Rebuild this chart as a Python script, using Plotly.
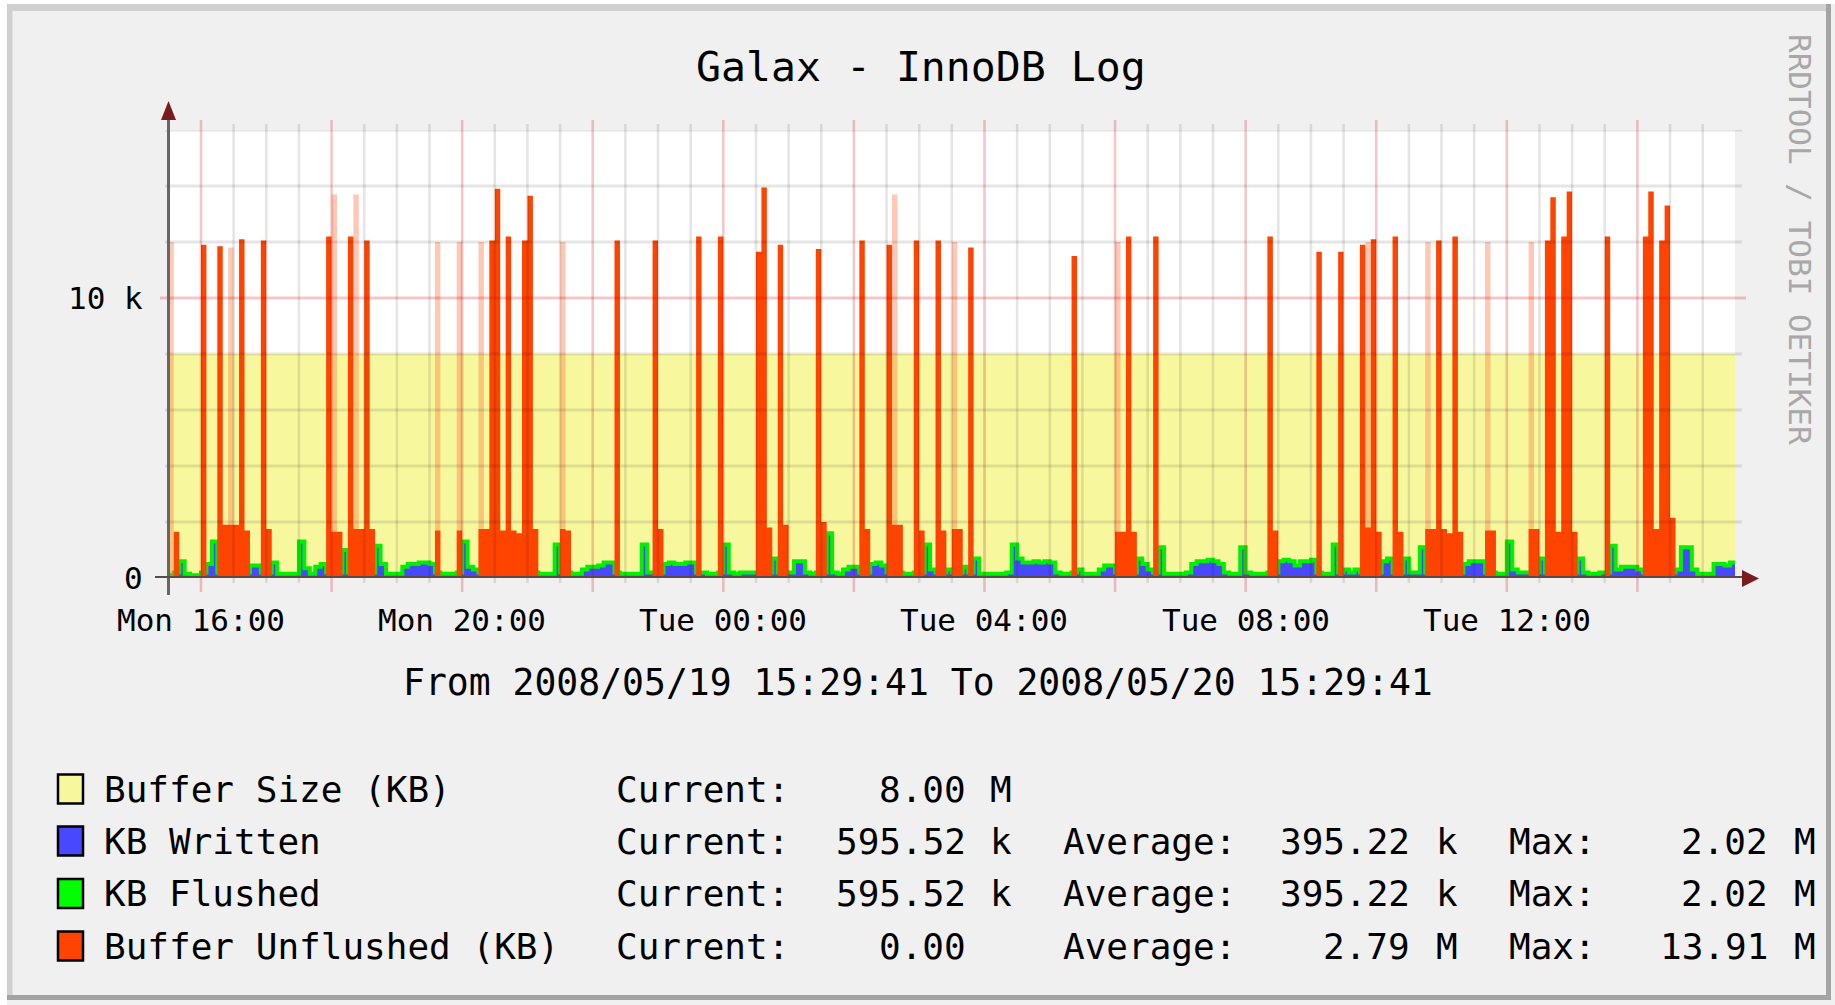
import plotly.graph_objects as go
import pandas as pd

# ---------------- data ----------------
TITLE = "Galax - InnoDB Log"
START = "2008-05-19 15:29:41"
END = "2008-05-20 15:29:41"
FIRST_SAMPLE = "2008-05-19 15:30:00"
STEP = "5min"
BUFFER_SIZE_KB = 8000

# 5-minute samples, one row = one hour (12 samples)
BUFFER_UNFLUSHED = [
    0, 1650, 0, 0, 0, 0, 11900, 0, 0, 11850, 1900, 1900,
    1900, 12100, 1700, 0, 0, 12050, 1750, 0, 0, 0, 0, 0,
    0, 0, 0, 0, 0, 12200, 1650, 1650, 0, 12200, 1750, 1750,
    12050, 1750, 0, 0, 0, 0, 0, 0, 0, 0, 0, 0,
    0, 1700, 0, 0, 0, 1700, 0, 0, 0, 1750, 1750, 12050,
    13900, 1700, 12200, 1700, 1600, 12050, 13650, 1750, 0, 0, 0, 0,
    1750, 1700, 0, 0, 0, 0, 0, 0, 0, 0, 12050, 0,
    0, 0, 0, 0, 0, 12050, 1750, 0, 0, 0, 0, 0,
    0, 12200, 0, 0, 0, 12200, 0, 0, 0, 0, 0, 0,
    11650, 13950, 1800, 0, 11900, 1900, 0, 0, 0, 0, 0, 11750,
    2000, 0, 0, 0, 0, 0, 0, 12050, 1750, 0, 0, 0,
    11900, 1900, 1900, 0, 0, 12050, 1700, 0, 0, 12050, 1700, 0,
    1750, 1750, 0, 11800, 0, 0, 0, 0, 0, 0, 0, 0,
    0, 0, 0, 0, 0, 0, 0, 0, 0, 0, 11500, 0,
    0, 0, 0, 0, 0, 0, 1650, 1650, 12200, 1650, 0, 0,
    0, 12200, 0, 0, 0, 0, 0, 0, 0, 0, 0, 0,
    0, 0, 0, 0, 0, 0, 0, 0, 0, 0, 12200, 1700,
    0, 0, 0, 0, 0, 0, 0, 11650, 0, 0, 0, 11650,
    0, 0, 0, 11900, 1800, 12100, 1650, 0, 0, 12200, 1650, 0,
    0, 0, 0, 1750, 1750, 12050, 1750, 1600, 12200, 1650, 0, 0,
    0, 0, 1700, 1700, 0, 0, 0, 0, 0, 0, 1750, 1750,
    0, 12050, 13600, 1650, 12200, 13800, 1650, 0, 0, 0, 0, 0,
    12200, 0, 0, 0, 0, 0, 0, 12200, 13800, 1750, 12050, 13300,
    2150, 0, 0, 0, 0, 0, 0, 0, 0, 0, 0, 0,
]

# thin, partly rendered peaks (appear pale in the picture)
BUFFER_UNFLUSHED_PALE = [
    12000, 0, 0, 0, 0, 0, 0, 0, 0, 0, 0, 11800,
    0, 0, 0, 0, 0, 0, 0, 0, 0, 0, 0, 0,
    0, 0, 0, 0, 0, 0, 13700, 0, 0, 0, 13700, 0,
    0, 0, 0, 0, 0, 0, 0, 0, 0, 0, 0, 0,
    0, 12000, 0, 0, 0, 12000, 0, 0, 0, 12000, 0, 0,
    0, 0, 0, 0, 0, 0, 0, 0, 0, 0, 0, 0,
    12000, 0, 0, 0, 0, 0, 0, 0, 0, 0, 0, 0,
    0, 0, 0, 0, 0, 0, 0, 0, 0, 0, 0, 0,
    0, 0, 0, 0, 0, 0, 0, 0, 0, 0, 0, 0,
    0, 0, 0, 0, 0, 0, 0, 0, 0, 0, 0, 0,
    0, 0, 0, 0, 0, 0, 0, 0, 0, 0, 0, 0,
    0, 13700, 0, 0, 0, 0, 0, 0, 0, 0, 0, 0,
    12000, 0, 0, 0, 0, 0, 0, 0, 0, 0, 0, 0,
    0, 0, 0, 0, 0, 0, 0, 0, 0, 0, 0, 0,
    0, 0, 0, 0, 0, 0, 12000, 0, 0, 0, 0, 0,
    0, 0, 0, 0, 0, 0, 0, 0, 0, 0, 0, 0,
    0, 0, 0, 0, 0, 0, 0, 0, 0, 0, 0, 0,
    0, 0, 0, 0, 0, 0, 0, 0, 0, 0, 0, 0,
    0, 0, 0, 0, 12000, 0, 0, 0, 0, 0, 0, 0,
    0, 0, 0, 12000, 0, 0, 0, 0, 0, 0, 0, 0,
    0, 0, 12000, 0, 0, 0, 0, 0, 0, 0, 12000, 0,
    0, 0, 0, 0, 0, 0, 0, 0, 0, 0, 0, 0,
    0, 0, 0, 0, 0, 0, 0, 0, 0, 0, 0, 0,
    0, 0, 0, 0, 0, 0, 0, 0, 0, 0, 0, 0,
]

KB_WRITTEN = [
    100, 200, 600, 150, 100, 100, 200, 500, 1300, 200, 200, 200,
    200, 200, 200, 450, 450, 200, 200, 550, 150, 150, 150, 150,
    1300, 350, 150, 400, 500, 200, 200, 200, 1000, 200, 200, 200,
    200, 200, 1150, 500, 150, 150, 150, 400, 500, 500, 550, 550,
    500, 200, 150, 150, 150, 200, 1300, 400, 300, 200, 200, 200,
    200, 200, 200, 200, 200, 200, 200, 200, 150, 150, 150, 1200,
    200, 200, 150, 150, 300, 400, 400, 450, 550, 550, 200, 150,
    150, 150, 150, 1200, 200, 200, 200, 500, 550, 500, 500, 550,
    550, 200, 200, 150, 150, 200, 1200, 200, 150, 200, 200, 200,
    200, 200, 200, 700, 200, 200, 200, 600, 600, 200, 150, 200,
    200, 1600, 200, 150, 300, 400, 400, 200, 200, 500, 550, 450,
    200, 200, 200, 150, 150, 200, 200, 1200, 300, 200, 200, 300,
    200, 200, 400, 200, 700, 150, 150, 150, 150, 150, 200, 1200,
    700, 550, 550, 600, 550, 600, 550, 200, 150, 150, 200, 300,
    150, 150, 150, 300, 450, 450, 200, 200, 200, 200, 700, 500,
    300, 200, 1100, 150, 150, 150, 150, 200, 500, 600, 600, 650,
    600, 500, 200, 150, 150, 1100, 200, 150, 150, 150, 200, 200,
    600, 650, 600, 450, 600, 600, 650, 200, 150, 150, 1200, 200,
    300, 200, 300, 200, 200, 200, 200, 600, 700, 200, 200, 700,
    200, 200, 1100, 200, 200, 200, 200, 200, 200, 200, 500, 600,
    600, 600, 200, 200, 150, 150, 1300, 300, 200, 200, 200, 200,
    700, 200, 200, 200, 200, 200, 200, 700, 200, 150, 150, 200,
    200, 1150, 300, 400, 400, 400, 300, 200, 200, 200, 200, 200,
    200, 300, 1100, 1100, 300, 150, 150, 150, 500, 500, 450, 550,
]
# legend shows identical statistics for written and flushed
KB_FLUSHED = list(KB_WRITTEN)

X_TICK_VALUES = ["2008-05-19 16:00", "2008-05-19 20:00", "2008-05-20 00:00",
                 "2008-05-20 04:00", "2008-05-20 08:00", "2008-05-20 12:00"]
X_TICK_TEXT = ["Mon 16:00", "Mon 20:00", "Tue 00:00", "Tue 04:00", "Tue 08:00", "Tue 12:00"]
Y_TICK_VALUES = [0, 10000]
Y_TICK_TEXT = ["0", "10 k"]
Y_GRID_VALUES = [2000, 4000, 6000, 8000, 10000, 12000, 14000, 16000]
Y_MAJOR_GRID = [10000]

LEGEND_LABELS = ["Buffer Size (KB)", "KB Written", "KB Flushed", "Buffer Unflushed (KB)"]
LEGEND_CURRENT = ["8.00 M", "595.52 k", "595.52 k", "0.00"]
LEGEND_AVERAGE = ["", "395.22 k", "395.22 k", "2.79 M"]
LEGEND_MAX = ["", "2.02 M", "2.02 M", "13.91 M"]
SUBTITLE = "From 2008/05/19 15:29:41 To 2008/05/20 15:29:41"
CREDIT = "RRDTOOL / TOBI OETIKER"

# ---------------- style ----------------
FONT = "DejaVu Sans Mono"
YELLOW = "#F7F89E"
BLUE = "#4848FF"
GREEN = "#00F000"
ORANGE = "#FF4300"
PALE_ORANGE = "rgba(255,110,60,0.38)"

WIDTH, HEIGHT = 1835, 1005
L, T, PW, PH = 168, 130, 1567, 448
B = T + PH


def px(p):
    return (p - L) / PW


def py(p):
    return (B - p) / PH


times = pd.date_range(FIRST_SAMPLE, periods=len(KB_WRITTEN) + 1, freq=STEP)


def held(vals):
    return list(vals) + [vals[-1]]


fig = go.Figure()
fig.add_trace(go.Scatter(x=[START, END], y=[BUFFER_SIZE_KB, BUFFER_SIZE_KB], mode="lines",
                         fill="tozeroy", fillcolor=YELLOW, line=dict(width=0, color=YELLOW),
                         hoverinfo="skip"))
fig.add_trace(go.Scatter(x=times, y=held(KB_WRITTEN), mode="lines", line_shape="hv",
                         fill="tozeroy", fillcolor=BLUE, line=dict(width=0, color=BLUE)))
fig.add_trace(go.Scatter(x=times, y=held(KB_FLUSHED), mode="lines", line_shape="hv",
                         line=dict(width=4, color=GREEN)))
fig.add_trace(go.Scatter(x=times, y=held(BUFFER_UNFLUSHED_PALE), mode="lines", line_shape="hv",
                         fill="tozeroy", fillcolor=PALE_ORANGE, line=dict(width=0, color=PALE_ORANGE)))
fig.add_trace(go.Scatter(x=times, y=held(BUFFER_UNFLUSHED), mode="lines", line_shape="hv",
                         fill="tozeroy", fillcolor=ORANGE, line=dict(width=0, color=ORANGE)))

shapes = []
# frame
shapes.append(dict(type="rect", xref="paper", yref="paper", x0=px(0), x1=px(WIDTH), y0=py(0), y1=py(4),
                   fillcolor="#ffffff", line_width=0, layer="below"))
shapes.append(dict(type="rect", xref="paper", yref="paper", x0=px(0), x1=px(7), y0=py(0), y1=py(HEIGHT),
                   fillcolor="#ffffff", line_width=0, layer="below"))
shapes.append(dict(type="rect", xref="paper", yref="paper", x0=px(7), x1=px(1831), y0=py(4), y1=py(11),
                   fillcolor="#d0d0d0", line_width=0, layer="below"))
shapes.append(dict(type="rect", xref="paper", yref="paper", x0=px(7), x1=px(12.5), y0=py(4), y1=py(1000),
                   fillcolor="#d0d0d0", line_width=0, layer="below"))
shapes.append(dict(type="rect", xref="paper", yref="paper", x0=px(1826), x1=px(1831), y0=py(4), y1=py(1000),
                   fillcolor="#a4a4a4", line_width=0, layer="below"))
shapes.append(dict(type="rect", xref="paper", yref="paper", x0=px(7), x1=px(1831), y0=py(995), y1=py(1000),
                   fillcolor="#a4a4a4", line_width=0, layer="below"))

# vertical grid every 30 minutes, red every 2 hours
for t in pd.date_range("2008-05-19 16:00", "2008-05-20 15:00", freq="30min"):
    major = t.minute == 0 and t.hour % 2 == 0
    shapes.append(dict(type="line", xref="x", yref="paper", x0=t, x1=t,
                       y0=py(592 if major else 583), y1=py(120 if major else 124),
                       line=dict(color="rgba(200,0,0,0.22)" if major else "rgba(0,0,0,0.1)", width=2.6),
                       layer="above"))
for v in Y_GRID_VALUES:
    major = v in Y_MAJOR_GRID
    shapes.append(dict(type="line", xref="paper", yref="y", x0=px(160 if major else 165),
                       x1=px(1746 if major else 1742), y0=v, y1=v,
                       line=dict(color="rgba(200,0,0,0.22)" if major else "rgba(0,0,0,0.1)", width=2.8),
                       layer="above"))
# axes
shapes.append(dict(type="line", xref="paper", yref="paper", x0=px(168.5), x1=px(168.5), y0=py(595), y1=py(118),
                   line=dict(color="#666666", width=3), layer="above"))
shapes.append(dict(type="line", xref="paper", yref="y", x0=px(155), x1=px(1745), y0=0, y1=0,
                   line=dict(color="#5c4a4a", width=4), layer="above"))
shapes.append(dict(type="path", xref="paper", yref="paper",
                   path=f"M {px(168.5)},{py(101)} L {px(161)},{py(120)} L {px(176)},{py(120)} Z",
                   fillcolor="#7a1c1c", line_width=0, layer="above"))
shapes.append(dict(type="path", xref="paper", yref="paper",
                   path=f"M {px(1759)},{py(578.5)} L {px(1742)},{py(570)} L {px(1742)},{py(587)} Z",
                   fillcolor="#7a1c1c", line_width=0, layer="above"))

annotations = []


def ann(text, x, y, size, xanchor="left", color="#000000", xref="paper", yref="paper", angle=0):
    annotations.append(dict(text=text, x=x, y=y, xref=xref, yref=yref, xanchor=xanchor, yanchor="middle",
                            showarrow=False, textangle=angle,
                            font=dict(family=FONT, size=size, color=color)))


ann(TITLE, px(921), py(66), 41.5, xanchor="center")
for tv, tt in zip(X_TICK_VALUES, X_TICK_TEXT):
    ann(tt, tv, py(620), 31, xanchor="center", xref="x")
for v, tt in zip(Y_TICK_VALUES, Y_TICK_TEXT):
    ann(tt, px(145), v, 31, xanchor="right", yref="y")
ann(SUBTITLE, px(918), py(682), 36.4, xanchor="center")
ann(CREDIT, px(1800), py(239), 31, xanchor="center", color="#a8a8a8", angle=90)

ROW_Y = [789, 841, 893.5, 946]
SWATCH = [YELLOW, BLUE, "#00FF00", ORANGE]
for i, label in enumerate(LEGEND_LABELS):
    yc = ROW_Y[i]
    shapes.append(dict(type="rect", xref="paper", yref="paper", x0=px(58), x1=px(83),
                       y0=py(yc + 14.5), y1=py(yc - 14.5), fillcolor=SWATCH[i],
                       line=dict(color="#000000", width=2.5), layer="above"))
    ann(label, px(102), py(yc), 36)
    ann("Current:", px(614), py(yc), 36)
    parts = LEGEND_CURRENT[i].split(" ")
    ann(parts[0], px(968), py(yc), 36, xanchor="right")
    if len(parts) > 1:
        ann(parts[1], px(988), py(yc), 36)
    if LEGEND_AVERAGE[i]:
        ann("Average:", px(1061), py(yc), 36)
        parts = LEGEND_AVERAGE[i].split(" ")
        ann(parts[0], px(1412), py(yc), 36, xanchor="right")
        ann(parts[1], px(1434), py(yc), 36)
    if LEGEND_MAX[i]:
        ann("Max:", px(1507), py(yc), 36)
        parts = LEGEND_MAX[i].split(" ")
        ann(parts[0], px(1770), py(yc), 36, xanchor="right")
        ann(parts[1], px(1792), py(yc), 36)

fig.update_layout(
    width=WIDTH, height=HEIGHT, autosize=False,
    margin=dict(l=L, r=WIDTH - L - PW, t=T, b=HEIGHT - B, pad=0),
    paper_bgcolor="#f0f0f0", plot_bgcolor="#ffffff",
    showlegend=False, shapes=shapes, annotations=annotations,
    xaxis=dict(type="date", range=[START, END], showgrid=False, zeroline=False,
               showticklabels=False, ticks="", showline=False, fixedrange=True),
    yaxis=dict(range=[0, 16000], showgrid=False, zeroline=False, showticklabels=False,
               ticks="", showline=False, fixedrange=True),
    font=dict(family=FONT),
)

fig.write_html("out.html", config={"displayModeBar": False},
               post_script="document.body.style.margin='0px';document.body.style.overflow='hidden';")
